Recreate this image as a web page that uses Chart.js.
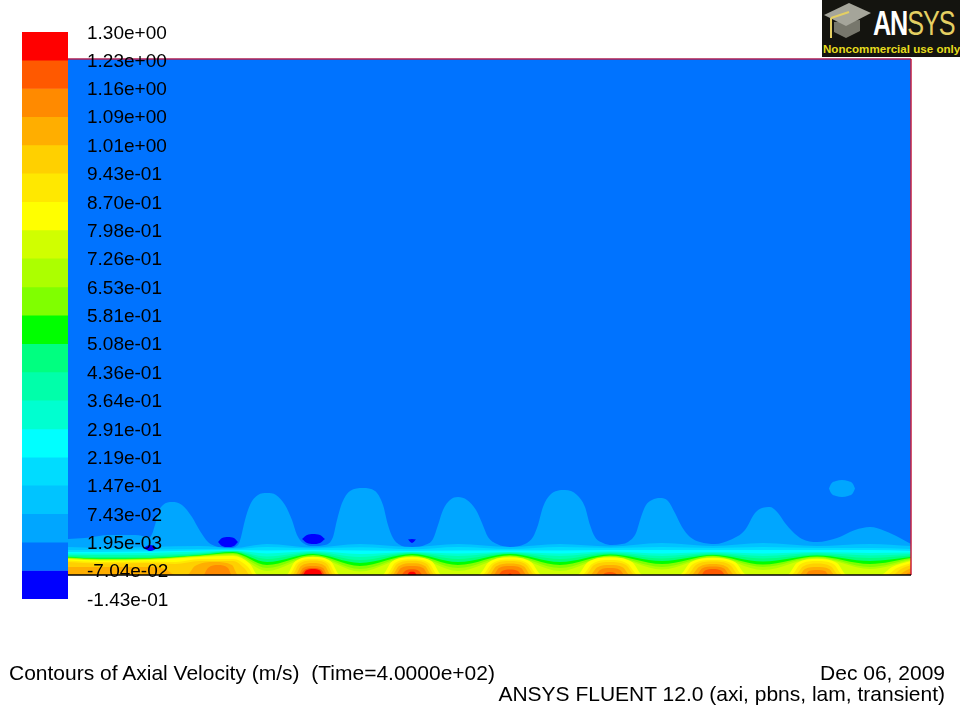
<!DOCTYPE html>
<html>
<head>
<meta charset="utf-8">
<title>Contours of Axial Velocity</title>
<script src="https://cdn.jsdelivr.net/npm/chart.js@4/dist/chart.umd.min.js"></script>
<style>
  html, body { margin: 0; background: #fff; }
  #page { position: relative; width: 960px; height: 720px; overflow: hidden; font-family: "Liberation Sans", sans-serif; color: #000; }
  canvas { position: absolute; }
  #contours { left: 0; top: 0; }
  #colorbar { left: 22px; top: 0; }
  .note { position: absolute; font-size: 21px; line-height: 22px; white-space: pre; }
  #logo { position: absolute; left: 822px; top: 0; width: 138px; height: 57px; background: #14140f; overflow: hidden; }
  #logo svg { position: absolute; left: 0; top: 0; }
  #logoName { position: absolute; left: 51px; top: 3px; font-size: 35px; line-height: 40px; font-weight: bold; color: #fff; transform: scaleX(0.72); transform-origin: left top; letter-spacing: -1.5px; white-space: pre; }
  #logoName span { color: #e4cf62; font-weight: normal; }
  #logoUse { position: absolute; left: 1px; top: 42px; font-size: 11.6px; line-height: 14px; font-weight: bold; color: #e6dc1e; white-space: pre; }
</style>
</head>
<body>
<div id="page">
  <canvas id="contours" width="960" height="720"></canvas>
  <canvas id="colorbar" width="200" height="630"></canvas>
  <div class="note" id="noteTitle" style="left:9px;top:662px">Contours of Axial Velocity (m/s)  (Time=4.0000e+02)</div>
  <div class="note" id="noteDate" style="right:15px;top:662px">Dec 06, 2009</div>
  <div class="note" id="noteSolver" style="right:15px;top:683px">ANSYS FLUENT 12.0 (axi, pbns, lam, transient)</div>
  <div id="logo">
    <svg width="52" height="42" viewBox="0 0 52 42">
      <polygon points="12,22 12,32 24,38 38,31 38,20" fill="#77776c"/>
      <polygon points="2,15 27,3 49,13 24,26" fill="#a5a59a"/>
      <line x1="27" y1="12" x2="9" y2="18" stroke="#e4cf62" stroke-width="2"/>
      <line x1="9" y1="18" x2="9" y2="38" stroke="#e4cf62" stroke-width="2"/>
    </svg>
    <div id="logoName">AN<span>SYS</span></div>
    <div id="logoUse">Noncommercial use only</div>
  </div>
</div>
<script>
// contour levels of the legend, top to bottom
const levelLabels = ["1.30e+00","1.23e+00","1.16e+00","1.09e+00","1.01e+00","9.43e-01","8.70e-01","7.98e-01","7.26e-01","6.53e-01","5.81e-01","5.08e-01","4.36e-01","3.64e-01","2.91e-01","2.19e-01","1.47e-01","7.43e-02","1.95e-03","-7.04e-02","-1.43e-01"];
const levelValues = [1.303,1.231,1.159,1.087,1.015,0.943,0.870,0.798,0.726,0.653,0.581,0.508,0.436,0.364,0.291,0.219,0.147,0.0743,0.00195,-0.0704,-0.143];
const bandColors = ["#ff0000","#ff5900","#ff8a00","#ffae00","#ffd000","#ffe800","#ffff00","#d0ff00","#acff00","#80ff00","#00ff00","#00ff80","#00ffaa","#00ffd0","#00ffff","#00dcff","#00c4ff","#00a6ff","#0073ff","#0000ff"];

// axial stations and radial height of the near wall contours
const waveX = [68,100,150,200,233,267,313,360,412,458,510,560,610,662,713,763,817,870,911];
const band16 = [28,27,28,29,27,31,27.5,31,28,31,28,31,28.5,32,29,32,29,31,29];
const band15 = [25,25,25.5,26,26,28,26.5,27.7,25.7,28,26,28,27,28,27,28,27,27,26];
const band14 = [23,23,23.5,24.5,25,24.5,25,24.5,24,24.5,24.5,24.5,25,25,25,25,25,25,24];
const band13 = [21.5,21.5,22,23.5,24.5,21.5,24,21,23,21.5,23,21.5,23.5,21.5,23,21.5,23,22,22.5];
const band12 = [20,20,20,22,24,18.5,23,18,22.5,19,22.5,19,22.5,19,22,19,22,19.5,21];
const band11 = [19,18,18.5,21,23.7,16,22,15,21.7,16,21.7,16,21.5,16.5,21,16.5,20.5,17,19.5];
const band10 = [18,16.5,17,20,23,13,21,12,21,13,21,13,20.5,14,20,13.5,19.5,14,18];
const band9 = [17.5,16,16.5,19.5,22,10,20,9,19.7,10,19.7,10,19.5,11,19.3,10.5,18.5,11,17];
const band8 = [17,15.5,16,19,21,7,19,6,19,7,19,7,18.8,8,18.5,8,17.7,8,16];
const band7 = [16.5,15,15.5,18.5,20,4,18.3,3.5,18.3,4,18.3,4,18,5.5,17.7,5,17,6,15];

// warm contours along the wall, [axial, radial]
const band6 = [[68,16],[100,14.5],[150,15],[200,18],[233,19],[250,11],[258,0],[286,0],[295,13.5],[313,18],[331,13.5],[340,0],[382,0],[392,13.5],[412,17.7],[432,13.5],[442,0],[478,0],[489,13],[510,17.5],[531,13],[542,0],[577,0],[588,13],[610,17.5],[632,13],[643,0],[679,0],[691,13],[713,17],[735,13],[747,0],[787,0],[797,12],[817,16],[837,12],[847,0],[880,0],[892,8],[911,14]];
const band5 = [[68,14.5],[100,13],[150,13.5],[175,13],[200,16],[233,16],[248,8],[254,0],[289,0],[297,12],[313,16],[329,12],[337,0],[386,0],[395,12],[412,15.7],[429,12],[438,0],[482,0],[492,11.5],[510,15.5],[528,11.5],[538,0],[582,0],[592,11],[610,15],[628,11],[638,0],[683,0],[693,11],[713,15],[733,11],[743,0],[791,0],[800,10.5],[817,14],[834,10.5],[843,0],[886,0],[897,7],[911,12]];
const band4 = [[68,13],[100,11.5],[150,12],[175,11],[200,14],[233,14],[245,6],[250,0],[292,0],[299,11],[313,14.5],[327,11],[334,0],[389,0],[397,11],[412,14.3],[427,11],[435,0],[485,0],[494,10.5],[510,14],[526,10.5],[535,0],[585,0],[594,10],[610,13],[626,10],[635,0],[687,0],[696,10],[713,13.5],[730,10],[739,0],[795,0],[803,8.5],[817,11.5],[831,8.5],[839,0],[892,0],[901,6],[911,10]];
const band3 = [[68,8],[100,8],[150,8],[165,6],[176,0],[187,0],[195,9],[215,13],[232,10],[238,0],[295,0],[301,9],[313,12],[325,9],[331,0],[392,0],[399,9],[412,11.7],[425,9],[432,0],[489,0],[496,8.5],[510,11.5],[524,8.5],[531,0],[590,0],[597,7.5],[610,10],[623,7.5],[630,0],[691,0],[699,8],[713,11],[727,8],[735,0],[799,0],[805,6],[817,8],[829,6],[835,0],[898,0],[905,4],[911,7]];
const band2 = [[204,0],[208,7],[218,10],[228,7],[232,0],[298,0],[303,7],[313,9],[323,7],[328,0],[395,0],[401,7],[412,9],[423,7],[429,0],[493,0],[499,7],[510,9],[521,7],[527,0],[595,0],[600,5],[610,7],[620,5],[625,0],[696,0],[702,6.5],[713,8.5],[724,6.5],[730,0],[805,0],[809,4],[817,5],[825,4],[829,0],[904,0],[908,2],[911,3]];
const band1 = [[300.5,0],[305,5.5],[313,7],[321,5.5],[325.5,0],[401,0],[405,4],[412,5.7],[419,4],[423,0],[498,0],[502,4],[510,5.5],[518,4],[522,0],[602,0],[605,2],[610,3],[615,2],[618,0],[701,0],[705,4.5],[713,6],[721,4.5],[725,0]];
const band0 = [[303,0],[306,4.5],[313,6],[320,4.5],[323,0],[407,0],[409,2.5],[412,3.3],[415,2.5],[417,0],[507,0],[509,1],[510,1.5],[511,1],[513,0]];

// outer contour with the humps reaching into the flow
const band17 = [[68,36],[85,37],[110,40],[135,40],[150,38],[155,50],[158,62],[163,70],[172,73],[182,70],[192,58],[200,44],[208,33],[215,29],[228,27],[238,30],[241,38],[245,55],[250,70],[258,80],[267,82],[276,80],[285,70],[292,55],[297,40],[303,32],[313,29],[325,30],[333,38],[337,55],[342,72],[350,84],[363,87],[375,84],[383,70],[388,50],[393,37],[402,29],[412,27],[425,30],[433,36],[438,50],[443,65],[450,75],[458,78],[467,75],[476,65],[482,52],[488,38],[497,31],[510,28],[525,31],[533,38],[538,50],[543,68],[550,80],[565,85],[577,80],[585,68],[590,50],[595,38],[603,32],[612,30],[622,31],[628,33],[636,42],[641,58],[646,70],[652,75],[660,77],[668,74],[675,62],[682,48],[690,38],[700,33],[715,31],[730,35],[745,45],[755,62],[762,67],[770,68],[778,62],[785,52],[792,44],[802,36],[817,33],[837,37],[855,45],[870,48],[885,44],[900,37],[911,31]];
const bulkX = [68,911];
const bulkR = [516,516];

// closed islands, same stations for the upper and lower edge
const eddyAX = [218,222,228,234,238], eddyAUp = [33,37,38,37,33], eddyALow = [33,29,28,29,33];
const eddyBX = [302,307,313,320,325], eddyBUp = [36,40,41,40,36], eddyBLow = [36,32,31,32,36];
const eddyCX = [143,147,150,154,157], eddyCUp = [27,29,30,29,27], eddyCLow = [27,25,24,25,27];
const eddyDX = [408,412,416], eddyDUp = [35.5,36,35.5], eddyDLow = [35.5,32,35.5];
const islandX = [829,831,836,842,848,853,855], islandUp = [86.5,91,94,95,94,91,86.5], islandLow = [86.5,82,79,78,79,82,86.5];

function toPoints(xs, rs) {
  return xs.map((x, i) => ({ x: x, y: rs[i] }));
}
function toPairs(pairs) {
  return pairs.map(p => ({ x: p[0], y: p[1] }));
}
function layer(points, color, fill) {
  return {
    data: points,
    showLine: true,
    pointRadius: 0,
    borderWidth: 0,
    borderColor: color,
    backgroundColor: color,
    cubicInterpolationMode: "monotone",
    fill: fill
  };
}

// painted from the outside in
const layers = [];
layers.push(layer(toPoints(bulkX, bulkR), bandColors[18], "origin"));
layers.push(layer(toPairs(band17), bandColors[17], "origin"));
layers.push(layer(toPoints(islandX, islandLow), bandColors[17], false));
layers.push(layer(toPoints(islandX, islandUp), bandColors[17], "+1"));
[band16,band15,band14,band13,band12,band11,band10,band9,band8,band7].forEach((rs, i) => {
  layers.push(layer(toPoints(waveX, rs), bandColors[16 - i], "origin"));
});
[band6,band5,band4,band3,band2,band1,band0].forEach((pairs, i) => {
  layers.push(layer(toPairs(pairs), bandColors[6 - i], "origin"));
});
[[eddyAX,eddyAUp,eddyALow],[eddyBX,eddyBUp,eddyBLow],[eddyCX,eddyCUp,eddyCLow],[eddyDX,eddyDUp,eddyDLow]].forEach(e => {
  layers.push(layer(toPoints(e[0], e[2]), bandColors[19], false));
  layers.push(layer(toPoints(e[0], e[1]), bandColors[19], "+1"));
});

// domain edges: outlet and far field are drawn red, the wall black
const domainEdges = {
  id: "domainEdges",
  afterDraw(chart) {
    const { ctx, chartArea: a } = chart;
    ctx.save();
    ctx.lineWidth = 1.5;
    ctx.strokeStyle = "#b01e50";
    ctx.beginPath();
    ctx.moveTo(a.left, a.top);
    ctx.lineTo(a.right, a.top);
    ctx.stroke();
    ctx.strokeStyle = "#c81e3c";
    ctx.beginPath();
    ctx.moveTo(a.right, a.top);
    ctx.lineTo(a.right, a.bottom);
    ctx.stroke();
    ctx.strokeStyle = "#000";
    ctx.beginPath();
    ctx.moveTo(a.left, a.bottom);
    ctx.lineTo(a.right, a.bottom);
    ctx.stroke();
    ctx.restore();
  }
};

new Chart(document.getElementById("contours"), {
  type: "scatter",
  data: { datasets: layers.reverse() }, // the filler paints the last dataset first
  plugins: [domainEdges],
  options: {
    responsive: false,
    animation: false,
    layout: { padding: { left: 68, top: 59, right: 49, bottom: 145 } },
    plugins: { legend: { display: false }, tooltip: { enabled: false } },
    scales: {
      x: { type: "linear", min: 68, max: 911, display: false },
      y: { type: "linear", min: 0, max: 516, display: false }
    }
  }
});

const bandBars = bandColors.map((color, i) => ({
  data: [[levelValues[i + 1], levelValues[i]]],
  backgroundColor: color,
  borderWidth: 0,
  grouped: false,
  barPercentage: 1,
  categoryPercentage: 1
}));

new Chart(document.getElementById("colorbar"), {
  type: "bar",
  data: { labels: [""], datasets: bandBars },
  options: {
    responsive: false,
    animation: false,
    layout: { padding: { top: 32, bottom: 31 } },
    plugins: { legend: { display: false }, tooltip: { enabled: false } },
    scales: {
      x: { display: false },
      y: {
        position: "right",
        min: levelValues[levelValues.length - 1],
        max: levelValues[0],
        grid: { display: false, drawTicks: false },
        border: { display: false },
        afterBuildTicks: axis => { axis.ticks = levelValues.map(v => ({ value: v })); },
        afterFit: axis => { axis.width = 154; },
        ticks: {
          autoSkip: false,
          padding: 19,
          labelOffset: 1.5,
          color: "#000",
          font: { family: "Liberation Sans", size: 19 },
          callback: (value, index) => levelLabels[index]
        }
      }
    }
  }
});
</script>
</body>
</html>
